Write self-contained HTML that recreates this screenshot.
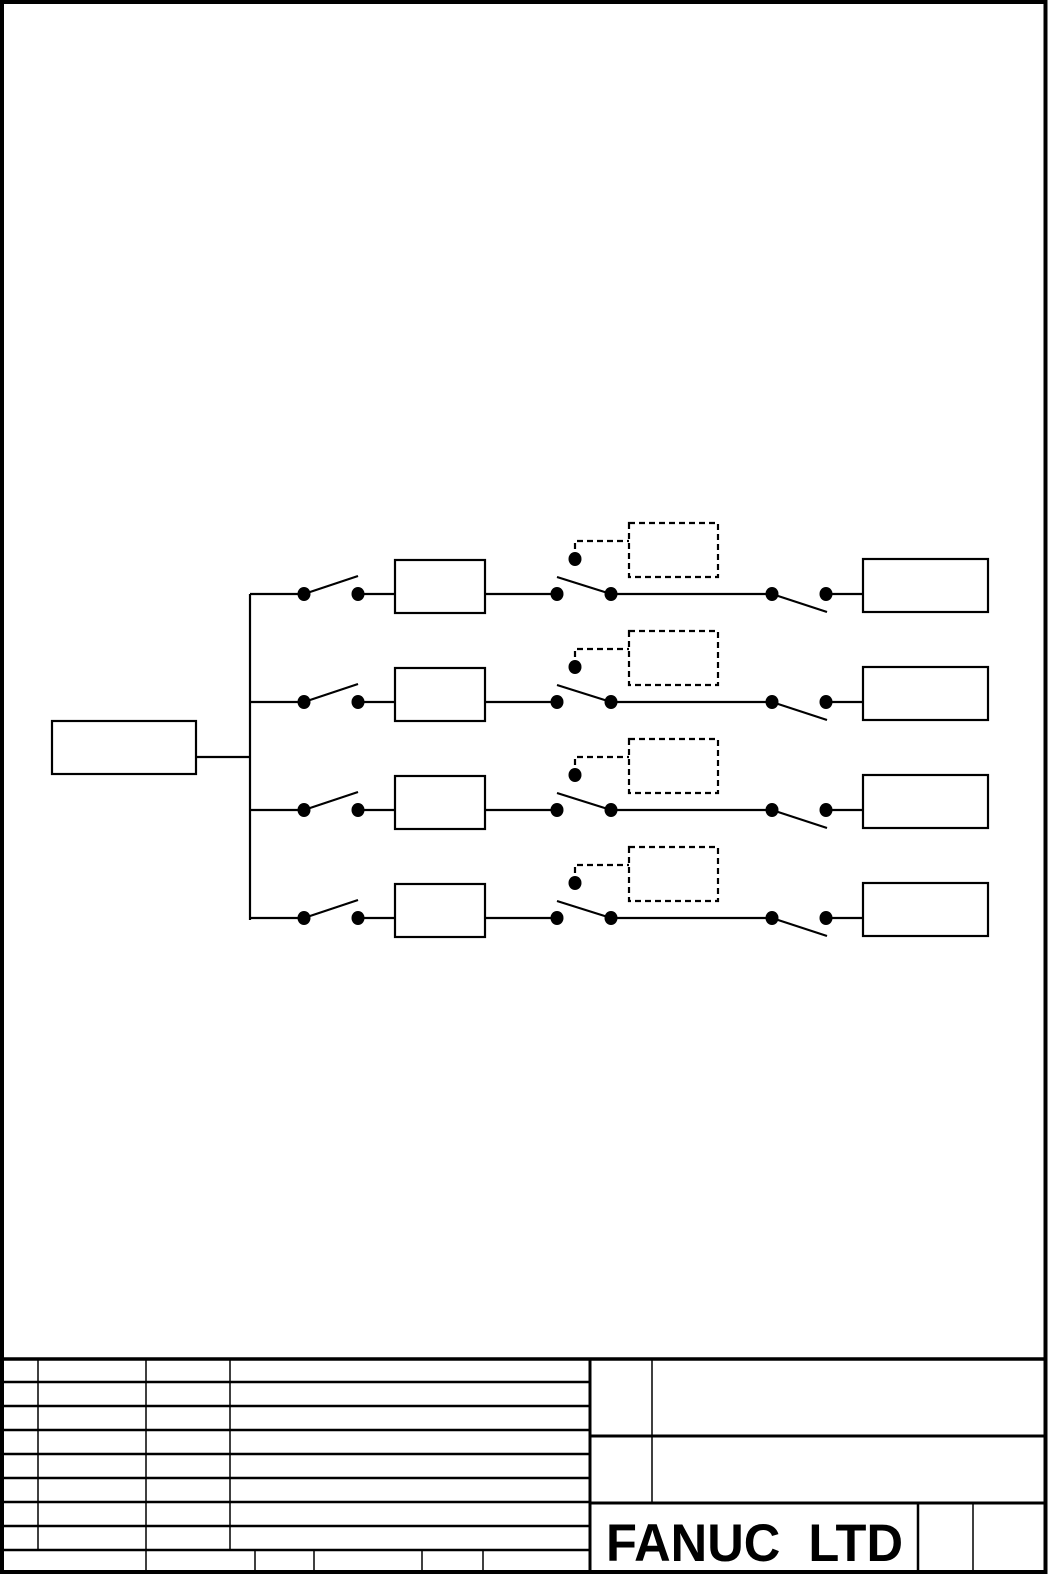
<!DOCTYPE html>
<html><head><meta charset="utf-8"><style>
html,body{margin:0;padding:0;background:#fff;}
svg{display:block;}
</style></head><body>
<svg width="1050" height="1576" viewBox="0 0 1050 1576" xmlns="http://www.w3.org/2000/svg">
<rect x="0" y="0" width="1050" height="1576" fill="#fff"/>
<rect x="2" y="2" width="1043.5" height="1570" fill="none" stroke="#000" stroke-width="4"/>
<g stroke="#000" fill="none">
<line x1="2" y1="1359" x2="1046" y2="1359" stroke-width="3.5"/>
<g stroke-width="2.5">
<line x1="2" y1="1382" x2="590" y2="1382"/>
<line x1="2" y1="1406" x2="590" y2="1406"/>
<line x1="2" y1="1430" x2="590" y2="1430"/>
<line x1="2" y1="1454" x2="590" y2="1454"/>
<line x1="2" y1="1478" x2="590" y2="1478"/>
<line x1="2" y1="1502" x2="590" y2="1502"/>
<line x1="2" y1="1526" x2="590" y2="1526"/>
<line x1="2" y1="1550" x2="590" y2="1550"/>
</g>
<g stroke-width="1.5">
<line x1="38" y1="1359" x2="38" y2="1550"/>
<line x1="146" y1="1359" x2="146" y2="1572"/>
<line x1="230" y1="1359" x2="230" y2="1550"/>
<line x1="255" y1="1550" x2="255" y2="1572"/>
<line x1="314" y1="1550" x2="314" y2="1572"/>
<line x1="422" y1="1550" x2="422" y2="1572"/>
<line x1="483" y1="1550" x2="483" y2="1572"/>
<line x1="652" y1="1359" x2="652" y2="1503"/>
<line x1="918" y1="1503" x2="918" y2="1572" stroke-width="2.5"/>
<line x1="973" y1="1503" x2="973" y2="1572"/>
</g>
<line x1="590" y1="1359" x2="590" y2="1572" stroke-width="3"/>
<line x1="590" y1="1436" x2="1046" y2="1436" stroke-width="3"/>
<line x1="590" y1="1503" x2="1046" y2="1503" stroke-width="3"/>
</g>
<text x="606" y="1561" font-family="Liberation Sans, sans-serif" font-weight="bold" font-size="53" textLength="297" lengthAdjust="spacingAndGlyphs" fill="#000">FANUC&#160;&#160;LTD</text>

<g stroke="#000" fill="none" stroke-width="2.2">
<rect x="52" y="721" width="144" height="53"/>
<line x1="196" y1="757" x2="251" y2="757"/>
<line x1="250" y1="594" x2="250" y2="920"/>
</g>
<g id="row">
<g stroke="#000" fill="none" stroke-width="2.2">
<line x1="250" y1="594" x2="304" y2="594"/>
<line x1="304" y1="594" x2="358" y2="576"/>
<line x1="358" y1="594" x2="395" y2="594"/>
<rect x="395" y="560" width="90" height="53"/>
<line x1="485" y1="594" x2="557" y2="594"/>
<line x1="557" y1="577" x2="611" y2="594"/>
<line x1="611" y1="594" x2="772" y2="594"/>
<line x1="772" y1="594" x2="827" y2="612"/>
<line x1="826" y1="594" x2="863" y2="594"/>
<rect x="863" y="559" width="125" height="53"/>
<rect x="629" y="523" width="89" height="54" stroke-dasharray="6,4"/>
<polyline points="575,559 575,541 629,541" stroke-dasharray="6,4"/>
</g>
<g fill="#000">
<ellipse cx="304" cy="594" rx="6.5" ry="7"/>
<ellipse cx="358" cy="594" rx="6.5" ry="7"/>
<ellipse cx="557" cy="594" rx="6.5" ry="7"/>
<ellipse cx="611" cy="594" rx="6.5" ry="7"/>
<ellipse cx="575" cy="559" rx="6.5" ry="7"/>
<ellipse cx="772" cy="594" rx="6.5" ry="7"/>
<ellipse cx="826" cy="594" rx="6.5" ry="7"/>
</g>
</g>
<use href="#row" transform="translate(0,108)"/>
<use href="#row" transform="translate(0,216)"/>
<use href="#row" transform="translate(0,324)"/>
</svg>
</body></html>
